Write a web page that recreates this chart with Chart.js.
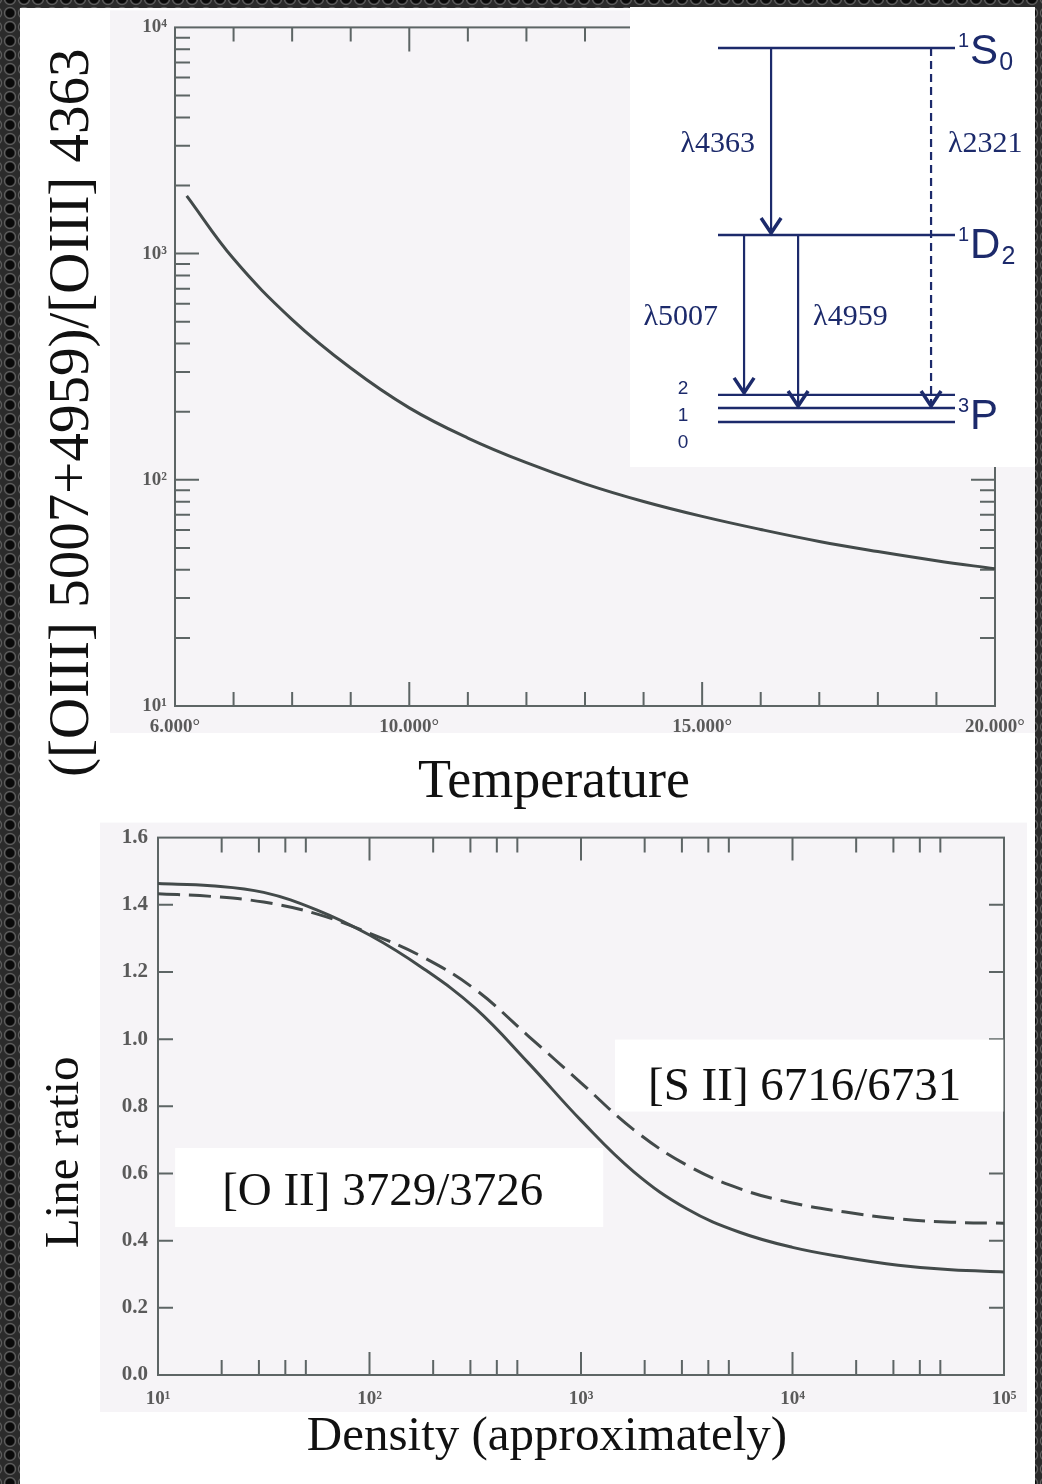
<!DOCTYPE html>
<html>
<head>
<meta charset="utf-8">
<script src="https://cdn.jsdelivr.net/npm/chart.js@4.4.0/dist/chart.umd.min.js"></script>
<style>
  html, body { margin: 0; padding: 0; }
  body {
    width: 1042px; height: 1484px; overflow: hidden; position: relative;
    background-color: #2b2b2b;
    background-image: radial-gradient(circle at 7px 7px, #0a0a0a 0, #0a0a0a 4px, #4d4d4d 5px, #5f5f5f 5.6px, #2b2b2b 6.6px, #2b2b2b 100%);
    background-size: 14px 14px;
    background-position: 3px 6px;
  }
  #page { position: absolute; left: 20px; top: 8px; width: 1015px; height: 1476px; background: #ffffff; }
  canvas { position: absolute; display: block; }
  #tempChart { left: 20px; top: 8px; }
  #densChart { left: 20px; top: 815px; }
  #levelChart { left: 630px; top: 7px; background: #ffffff; }
</style>
</head>
<body>
<div id="page"></div>
<canvas id="tempChart" width="1015" height="807"></canvas>
<canvas id="densChart" width="1015" height="669"></canvas>
<canvas id="levelChart" width="405" height="460"></canvas>
<script>
  // ---- top panel: [OIII] ratio vs temperature ----
  const temperatures = [6200, 7000, 8000, 9000, 10000, 11000, 12000, 13000, 14000, 15000, 16000, 17000, 18000, 19000, 20000];
  const oiiiRatio = [1800, 948, 511, 312, 208, 153, 119, 96, 80.2, 68.9, 60.3, 53.4, 48.2, 43.9, 40.4];
  const tempTickValues = [6000, 10000, 15000, 20000];
  const tempTickLabels = ['6.000°', '10.000°', '15.000°', '20.000°'];
  const oiiiTickValues = [10, 100, 1000, 10000];
  const oiiiTickLabels = ['10¹', '10²', '10³', '10⁴'];

  // ---- bottom panel: density diagnostics ----
  const densities = [10, 17.8, 31.6, 56.2, 100, 178, 316, 562, 1000, 1778, 3162, 5623, 10000, 17783, 31623, 56234, 100000];
  const oiiRatio = [1.463, 1.457, 1.437, 1.385, 1.31, 1.212, 1.092, 0.93, 0.758, 0.605, 0.495, 0.425, 0.38, 0.35, 0.327, 0.313, 0.307];
  const siiRatio = [1.433, 1.425, 1.408, 1.373, 1.315, 1.245, 1.148, 1.01, 0.87, 0.73, 0.625, 0.555, 0.512, 0.485, 0.465, 0.455, 0.452];
  const densTickValues = [10, 100, 1000, 10000, 100000];
  const densTickLabels = ['10¹', '10²', '10³', '10⁴', '10⁵'];
  const lineRatioTickValues = [0, 0.2, 0.4, 0.6, 0.8, 1.0, 1.2, 1.4, 1.6];
  const lineRatioTickLabels = ['0.0', '0.2', '0.4', '0.6', '0.8', '1.0', '1.2', '1.4', '1.6'];

  // ---- inset: O III energy levels (schematic heights) ----
  const levelTerms = ['3P0', '3P1', '3P2', '1D2', '1S0'];
  const levelHeights = [0, 0.15, 0.29, 2.0, 4.0];
  const transitionNames = ['λ4363', 'λ2321', 'λ5007', 'λ4959'];
  const transitionFrom = ['1S0', '1S0', '1D2', '1D2'];
  const transitionTo = ['1D2', '3P1', '3P2', '3P1'];
  const transitionX = [22.4, 89.9, 11, 33.8];
  const transitionDashed = [false, true, false, false];

  const NAVY = '#1c2a6b';
  const AXIS = '#5d6565';
  const CURVE = '#434a4a';
  const TICK_TEXT = '#5a5a5a';
  const SERIF = '"Liberation Serif", "Times New Roman", serif';
  const SANS = '"Liberation Sans", Arial, sans-serif';

  /** grey scanned sheet behind each plot, cropped below */
  const scanSheet = {
    id: 'scanSheet',
    beforeDraw(chart, args, o) {
      const { ctx, chartArea: a } = chart;
      ctx.save();
      ctx.fillStyle = o.color;
      const x0 = a.left - o.left, y0 = a.top - o.top;
      ctx.fillRect(x0, y0, a.right + o.right - x0, a.bottom + o.bottom - y0);
      ctx.restore();
    },
    afterDraw(chart, args, o) {
      const { ctx, chartArea: a, width, height } = chart;
      const y0 = a.bottom + o.bottom;
      ctx.save();
      ctx.fillStyle = '#ffffff';
      ctx.fillRect(0, y0, width, height - y0);
      ctx.restore();
    }
  };

  /** frame and inward tick marks on all four sides */
  const innerTicks = {
    id: 'innerTicks',
    beforeDatasetsDraw(chart, args, o) {
      const { ctx, chartArea: a, scales } = chart;
      ctx.save();
      ctx.strokeStyle = o.color;
      ctx.lineWidth = o.width;
      ctx.strokeRect(a.left, a.top, a.right - a.left, a.bottom - a.top);
      ctx.beginPath();
      o.x.forEach(t => {
        const px = scales.x.getPixelForValue(t.v);
        ctx.moveTo(px, a.bottom); ctx.lineTo(px, a.bottom - t.len);
        ctx.moveTo(px, a.top); ctx.lineTo(px, a.top + t.len);
      });
      o.y.forEach(t => {
        const py = scales.y.getPixelForValue(t.v);
        ctx.moveTo(a.left, py); ctx.lineTo(a.left + t.len, py);
        ctx.moveTo(a.right, py); ctx.lineTo(a.right - t.len, py);
      });
      ctx.stroke();
      ctx.restore();
    }
  };

  /** axis titles set outside the scanned sheet */
  const axisTitles = {
    id: 'axisTitles',
    afterDraw(chart, args, o) {
      const { ctx, chartArea: a } = chart;
      const cx = (a.left + a.right) / 2, cy = (a.top + a.bottom) / 2;
      o.items.forEach(it => {
        ctx.save();
        ctx.fillStyle = o.color;
        ctx.font = it.font;
        ctx.textAlign = 'center';
        ctx.textBaseline = 'alphabetic';
        if (it.vertical) {
          ctx.translate(a.left + it.dx, cy + it.dy);
          ctx.rotate(-Math.PI / 2);
        } else {
          ctx.translate(cx + it.dx, a.bottom + it.dy);
        }
        ctx.fillText(it.text, 0, 0);
        ctx.restore();
      });
    }
  };

  /** pasted white label boxes anchored at data values */
  const boxedLabels = {
    id: 'boxedLabels',
    afterDatasetsDraw(chart, args, o) {
      const { ctx, scales: { x, y } } = chart;
      ctx.save();
      ctx.font = o.font;
      ctx.textAlign = 'left';
      ctx.textBaseline = 'alphabetic';
      o.items.forEach(it => {
        const px = x.getPixelForValue(it.x), py = y.getPixelForValue(it.y);
        const w = ctx.measureText(it.text).width;
        const [l, t, r, b] = it.pad;
        ctx.fillStyle = '#ffffff';
        ctx.fillRect(px - l, py - t, w + l + r, t + b);
        ctx.fillStyle = o.color;
        ctx.fillText(it.text, px, py);
      });
      ctx.restore();
    }
  };

  function logTickMarks(decades, mults, major, minor) {
    const out = [];
    decades.forEach((d, di) => mults.forEach(m => {
      if (m === 1 && di === 0) return; // sits on the frame
      out.push({ v: d * m, len: m === 1 ? major : minor });
    }));
    return out;
  }

  const tempMarks = [];
  for (let t = 7000; t < 20000; t += 1000) tempMarks.push({ v: t, len: t % 5000 === 0 ? 24 : 14 });
  const ratioMarks = lineRatioTickValues.slice(1, -1).map(v => ({ v, len: 15 }));

  function tickFont(size) {
    return { family: SERIF, size, weight: 'bold' };
  }

  new Chart(document.getElementById('tempChart'), {
    type: 'line',
    data: {
      datasets: [{
        data: temperatures.map((t, i) => ({ x: t, y: oiiiRatio[i] })),
        borderColor: CURVE,
        borderWidth: 3,
        pointRadius: 0,
        tension: 0.4,
        fill: false
      }]
    },
    options: {
      responsive: false,
      animation: false,
      layout: { padding: { left: 0, right: 40, top: 17, bottom: 0 } },
      plugins: {
        legend: { display: false },
        tooltip: { enabled: false },
        scanSheet: { color: '#f6f4f7', left: 65, right: 40, top: 17, bottom: 27 },
        innerTicks: {
          color: AXIS, width: 2,
          x: tempMarks,
          y: logTickMarks([10, 100, 1000], [1, 2, 3, 4, 5, 6, 7, 8, 9], 24, 15)
        },
        axisTitles: {
          color: '#111111',
          items: [
            { text: '([OIII] 5007+4959)/[OIII] 4363', vertical: true, dx: -87, dy: 46, font: '57px ' + SERIF },
            { text: 'Temperature', dx: -31, dy: 91, font: '54px ' + SERIF }
          ]
        }
      },
      scales: {
        x: {
          type: 'linear', min: 6000, max: 20000,
          afterFit: s => { s.height = 109; },
          afterBuildTicks: s => { s.ticks = tempTickValues.map(v => ({ value: v })); },
          grid: { display: false, drawTicks: false },
          border: { display: false },
          ticks: {
            callback: (v, i) => tempTickLabels[i],
            color: TICK_TEXT, font: tickFont(19), padding: 10,
            maxRotation: 0, autoSkip: false
          }
        },
        y: {
          type: 'logarithmic', min: 10, max: 10000,
          afterFit: s => { s.width = 155; },
          afterBuildTicks: s => { s.ticks = oiiiTickValues.map(v => ({ value: v })); },
          grid: { display: false, drawTicks: false },
          border: { display: false },
          ticks: {
            callback: (v, i) => oiiiTickLabels[i],
            color: TICK_TEXT, font: tickFont(19), padding: 8, autoSkip: false
          }
        }
      }
    },
    plugins: [scanSheet, innerTicks, axisTitles]
  });

  new Chart(document.getElementById('densChart'), {
    type: 'line',
    data: {
      datasets: [{
        label: '[O II] 3729/3726',
        data: densities.map((n, i) => ({ x: n, y: oiiRatio[i] })),
        borderColor: CURVE, borderWidth: 3, pointRadius: 0,
        tension: 0.4, fill: false
      }, {
        label: '[S II] 6716/6731',
        data: densities.map((n, i) => ({ x: n, y: siiRatio[i] })),
        borderColor: CURVE, borderWidth: 3, pointRadius: 0, borderDash: [22, 9],
        tension: 0.4, fill: false
      }]
    },
    options: {
      responsive: false,
      animation: false,
      layout: { padding: { left: 0, right: 31, top: 22, bottom: 0 } },
      plugins: {
        legend: { display: false },
        tooltip: { enabled: false },
        scanSheet: { color: '#f6f4f7', left: 58, right: 23, top: 15, bottom: 37 },
        innerTicks: {
          color: AXIS, width: 2,
          x: logTickMarks([10, 100, 1000, 10000], [1, 2, 3, 4, 5], 23, 15),
          y: ratioMarks
        },
        boxedLabels: {
          font: '47px ' + SERIF, color: '#111111',
          items: [
            { text: '[S II] 6716/6731', x: 2075, y: 0.82, pad: [33, 60, 42, 12] },
            { text: '[O II] 3729/3726', x: 20.1, y: 0.506, pad: [47, 57, 60, 22] }
          ]
        },
        axisTitles: {
          color: '#111111',
          items: [
            { text: 'Line ratio', vertical: true, dx: -80, dy: 46, font: '49px ' + SERIF },
            { text: 'Density (approximately)', dx: -34, dy: 75, font: '49px ' + SERIF }
          ]
        }
      },
      scales: {
        x: {
          type: 'logarithmic', min: 10, max: 100000,
          afterFit: s => { s.height = 109; },
          afterBuildTicks: s => { s.ticks = densTickValues.map(v => ({ value: v })); },
          grid: { display: false, drawTicks: false },
          border: { display: false },
          ticks: {
            callback: (v, i) => densTickLabels[i],
            color: TICK_TEXT, font: tickFont(19), padding: 13,
            maxRotation: 0, autoSkip: false
          }
        },
        y: {
          type: 'linear', min: 0, max: 1.6,
          afterFit: s => { s.width = 138; },
          afterBuildTicks: s => { s.ticks = lineRatioTickValues.map(v => ({ value: v })); },
          grid: { display: false, drawTicks: false },
          border: { display: false },
          ticks: {
            callback: (v, i) => lineRatioTickLabels[i],
            color: TICK_TEXT, font: tickFont(21), padding: 10, autoSkip: false
          }
        }
      }
    },
    plugins: [scanSheet, innerTicks, boxedLabels, axisTitles]
  });

  /** arrowheads, wavelengths and term symbols of the level diagram */
  const levelLabels = {
    id: 'levelLabels',
    afterDatasetsDraw(chart, args, o) {
      const { ctx, chartArea: a, scales: { x, y } } = chart;
      const lvl = name => y.getPixelForValue(levelHeights[levelTerms.indexOf(name)]);
      const below = name => levelTerms[levelTerms.indexOf(name) - 1];
      ctx.save();
      ctx.strokeStyle = o.color;
      ctx.fillStyle = o.color;

      transitionNames.forEach((name, i) => {
        const px = x.getPixelForValue(transitionX[i]);
        const tip = lvl(transitionTo[i]) - 2;
        ctx.lineWidth = 3.5;
        ctx.beginPath();
        ctx.moveTo(px - 10, tip - 15);
        ctx.lineTo(px, tip);
        ctx.lineTo(px + 10, tip - 15);
        ctx.stroke();

        const from = transitionFrom[i];
        const mid = (lvl(from) + lvl(below(from))) / 2;
        const side = o.labelSide[i];
        ctx.font = o.waveFont;
        ctx.textBaseline = 'alphabetic';
        ctx.textAlign = side === 'left' ? 'right' : 'left';
        ctx.fillText(name, side === 'left' ? px - o.labelGap[i] : px + o.labelGap[i], mid + 10);
      });

      // term symbols at the right end of the levels
      ctx.textAlign = 'left';
      o.terms.forEach(t => {
        const base = lvl(t.level) + t.dy;
        let cx = a.right + 3;
        ctx.font = o.supFont;
        ctx.fillText(t.text[0], cx, base - 17);
        cx += ctx.measureText(t.text[0]).width + 1;
        ctx.font = o.termFont;
        ctx.fillText(t.text[1], cx, base);
        cx += ctx.measureText(t.text[1]).width + 1;
        if (t.text[2]) {
          ctx.font = o.subFont;
          ctx.fillText(t.text[2], cx, base + 6);
        }
      });

      // J values of the ground term
      ctx.font = o.jFont;
      ctx.textAlign = 'center';
      ctx.textBaseline = 'middle';
      const mid3P = lvl('3P1');
      levelTerms.filter(n => n.startsWith('3P')).forEach(n => {
        const J = Number(n[2]);
        ctx.fillText(String(J), a.left - 35, mid3P + 8 - (J - 1) * 27);
      });
      ctx.restore();
    }
  };

  const levelSets = levelTerms.map((name, i) => ({
    label: name,
    data: [{ x: 0, y: levelHeights[i] }, { x: 100, y: levelHeights[i] }],
    borderColor: NAVY, borderWidth: 2.4, pointRadius: 0, clip: false
  }));
  const transitionSets = transitionNames.map((name, i) => ({
    label: name,
    data: [
      { x: transitionX[i], y: levelHeights[levelTerms.indexOf(transitionFrom[i])] },
      { x: transitionX[i], y: levelHeights[levelTerms.indexOf(transitionTo[i])] }
    ],
    borderColor: NAVY, borderWidth: 2.2, pointRadius: 0, clip: false,
    borderDash: transitionDashed[i] ? [8, 5] : []
  }));

  new Chart(document.getElementById('levelChart'), {
    type: 'line',
    data: { datasets: [...levelSets, ...transitionSets] },
    options: {
      responsive: false,
      animation: false,
      layout: { padding: { left: 88, right: 80, top: 41, bottom: 45 } },
      scales: {
        x: { type: 'linear', min: 0, max: 100, display: false },
        y: { type: 'linear', min: 0, max: 4, display: false }
      },
      plugins: {
        legend: { display: false },
        tooltip: { enabled: false },
        levelLabels: {
          color: NAVY,
          waveFont: '30px ' + SERIF,
          labelSide: ['left', 'right', 'left', 'right'],
          labelGap: [16, 17, 26, 15],
          termFont: '42px ' + SANS,
          supFont: '20px ' + SANS,
          subFont: '25px ' + SANS,
          jFont: '19px ' + SANS,
          terms: [
            { level: '1S0', text: '1S0', dy: 16 },
            { level: '1D2', text: '1D2', dy: 23 },
            { level: '3P1', text: '3P', dy: 21 }
          ]
        }
      }
    },
    plugins: [levelLabels]
  });
</script>
</body>
</html>
